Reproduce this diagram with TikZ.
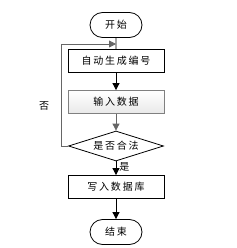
\documentclass[tikz,border=0pt]{standalone}
\usepackage{fontspec}
\newfontfamily\cjk[LetterSpace=18]{Noto Sans CJK SC}
\usetikzlibrary{shapes.geometric, shapes.misc, arrows.meta}
\tikzset{
	termnode/.style={
			rounded rectangle,
			draw=black,
			line width=0.8pt,
			fill=white,
			minimum width=52pt,
			minimum height=25pt,
			inner sep=0pt,
			font=\cjk\fontsize{10}{11}\selectfont
		},
	boxnode/.style={
			rectangle,
			draw=black,
			line width=0.8pt,
			fill=white,
			minimum width=96pt,
			minimum height=23pt,
			inner sep=0pt,
			font=\cjk\fontsize{10}{11}\selectfont
		},
	shadenode/.style={
			boxnode,
			draw=gray,
			top color=white,
			bottom color=gray!18
		},
	decidenode/.style={
			diamond,
			aspect=3.2,
			draw=black,
			line width=0.8pt,
			fill=white,
			minimum width=95pt,
			minimum height=30pt,
			inner sep=0pt,
			font=\cjk\fontsize{10}{11}\selectfont
		},
	flow/.style={
			line width=0.8pt,
			-{Triangle[length=7pt,width=7pt]}
		},
	grayflow/.style={
			flow,
			draw=gray!80!black
		},
	labelnode/.style={
			font=\cjk\fontsize{10}{11}\selectfont,
			inner sep=1pt
		}
}
\begin{document}
\begin{tikzpicture}[x=1pt, y=-1pt]
\useasboundingbox (0,0) rectangle (236,248);
\node[termnode] (n1) at (116,25)  {开始};
\node[boxnode] (n2) at (116,61)  {自动生成编号};
\node[shadenode] (n3) at (116,102)  {输入数据};
\node[decidenode] (n4) at (116,146)  {是否合法};
\node[boxnode] (n5) at (116,187)  {写入数据库};
\node[termnode] (n6) at (116,232)  {结束};
\coordinate (j1) at (116,44);
\node[labelnode] (no) at (44,106) {否};

\draw[line width=0.8pt] (n1) -- (n2);
\draw[flow] (n2) -- (n3);
\draw[grayflow] (n3) -- (n4);
\draw[flow] (n4) -- node[labelnode, right=2pt, pos=0.4] {是} (n5);
\draw[flow] (n5) -- (n6);

\draw[grayflow] (n4.west) -| (61,44) -- (j1);
\end{tikzpicture}
\end{document}
